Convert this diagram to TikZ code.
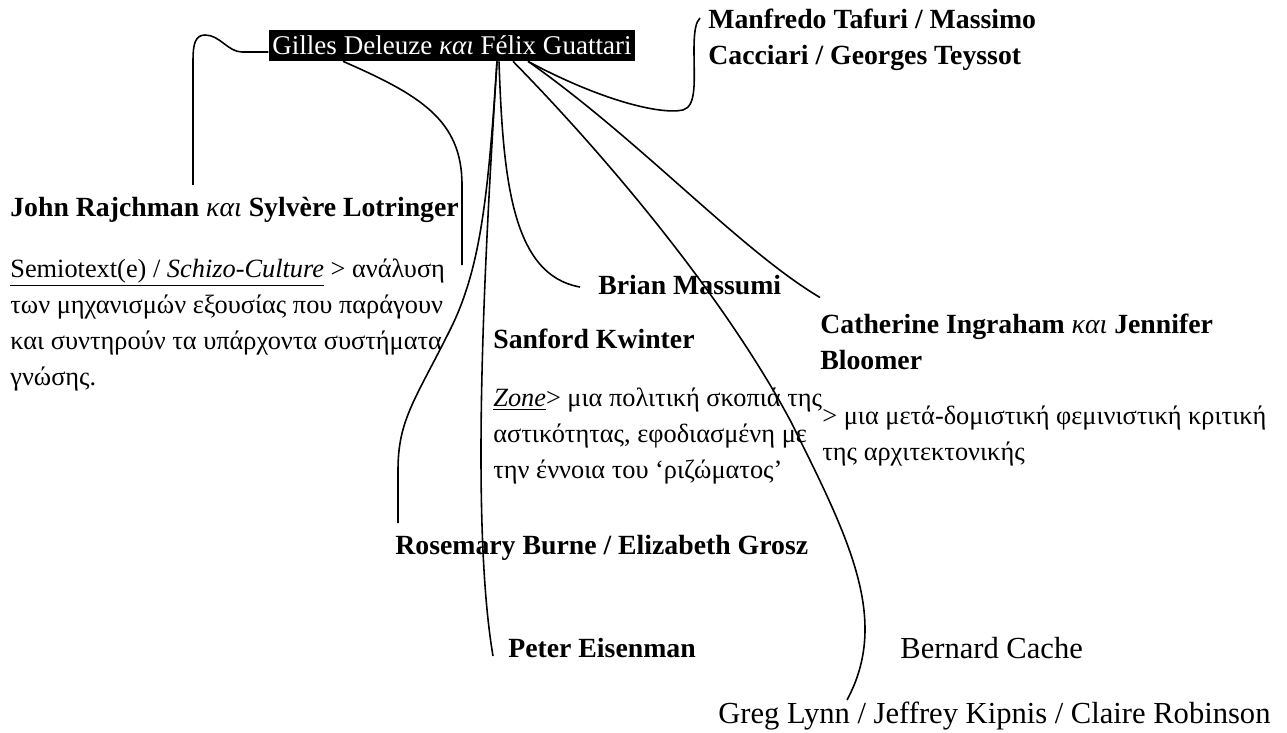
\documentclass[tikz,border=0pt]{standalone}
\usepackage{fontspec}
\setmainfont{Liberation Serif}
\usetikzlibrary{calc}
\newcommand{\sz}{\fontsize{15}{20.4}\selectfont}
\newcommand{\kai}{{\normalfont\itshape και}}
\tikzset{
  person/.style={font=\fontsize{15.8}{20.4}\selectfont\bfseries, anchor=west, inner sep=0pt},
  aside/.style={font=\fontsize{17.4}{20.4}\selectfont, anchor=west, inner sep=0pt},
  note/.style={font=\sz, anchor=west, align=left, inner sep=0pt},
  link/.style={line width=0.9pt},
}

\begin{document}
\begin{tikzpicture}[x=0.02cm, y=-0.02cm]
\useasboundingbox (0,0) rectangle (1287,733);

%centre
\node[font=\fontsize{15.4}{20.4}\selectfont, fill=black, text=white, inner xsep=2pt, inner ysep=0pt, minimum height=0.62cm] (gd) at (452,45.5) {Gilles Deleuze \textit{και} Félix Guattari};

%names
\node[person, align=left] (tafuri) at (708,40) {Manfredo Tafuri / Massimo\\Cacciari / Georges Teyssot};
\node[person] (john) at (10,210) {John Rajchman \kai{} Sylvère Lotringer};
\node[note] (semio) at (10,325) {\underline{Semiotext(e) / \textit{Schizo-Culture}} > ανάλυση\\των μηχανισμών εξουσίας που παράγουν\\και συντηρούν τα υπάρχοντα συστήματα\\γνώσης.};
\node[person] (massumi) at (598,285) {Brian Massumi};
\node[person] (kwinter) at (493,339) {Sanford Kwinter};
\node[note] (zone) at (493,436) {\underline{\textit{Zone}}> μια πολιτική σκοπιά της\\αστικότητας, εφοδιασμένη με\\την έννοια του ‘ριζώματος’};
\node[person, align=left] (catherine) at (820,341.5) {Catherine Ingraham \kai{} Jennifer\\Bloomer};
\node[note] (feminist) at (822,436) {> μια μετά-δομιστική φεμινιστική κριτική\\της αρχιτεκτονικής};
\node[person] (burne) at (395,548) {Rosemary Burne / Elizabeth Grosz};
\node[person] (eisenman) at (508,648) {Peter Eisenman};
\node[aside] (cache) at (900,648) {Bernard Cache};
\node[aside] (lynn) at (718,716) {Greg Lynn / Jeffrey Kipnis / Claire Robinson};

%links
\draw[link] ($(gd.west)+(0,6.5)$) -- (242,52) .. controls (228,52) and (220,35) .. (205,35) .. controls (195,35) and (193,45) .. (193,60) -- ($(john.west)+(183,-25)$);
\draw[link] ($(gd.south)+(-109,0)$) .. controls (420,95) and (462,120) .. (462,185) -- ($(semio.west)+(452,-60)$);
\draw[link] ($(gd.south)+(45,0)$) .. controls (488,200) and (480,270) .. (450,330) .. controls (415,400) and (398,420) .. (398,470) -- ($(burne.west)+(3,-25)$);
\draw[link] ($(gd.south)+(45,0)$) .. controls (485,250) and (470,520) .. ($(eisenman.west)+(-15,8)$);
\draw[link] ($(gd.south)+(47,0)$) .. controls (503,180) and (512,275) .. ($(massumi.west)+(-18,2)$);
\draw[link] ($(gd.south)+(61,0)$) .. controls (600,150) and (720,290) .. (790,420) .. controls (850,540) and (890,620) .. ($(lynn.west)+(129,-16)$);
\draw[link] ($(gd.south)+(76,0)$) .. controls (640,140) and (740,250) .. ($(catherine.west)+(0,-44)$);
\draw[link] ($(gd.south)+(76,0)$) .. controls (600,100) and (660,115) .. (683,110) .. controls (697,106) and (694,80) .. (694,50) .. controls (694,30) and (696,22) .. ($(tafuri.west)+(-8,-22)$);

\end{tikzpicture}
\end{document}
